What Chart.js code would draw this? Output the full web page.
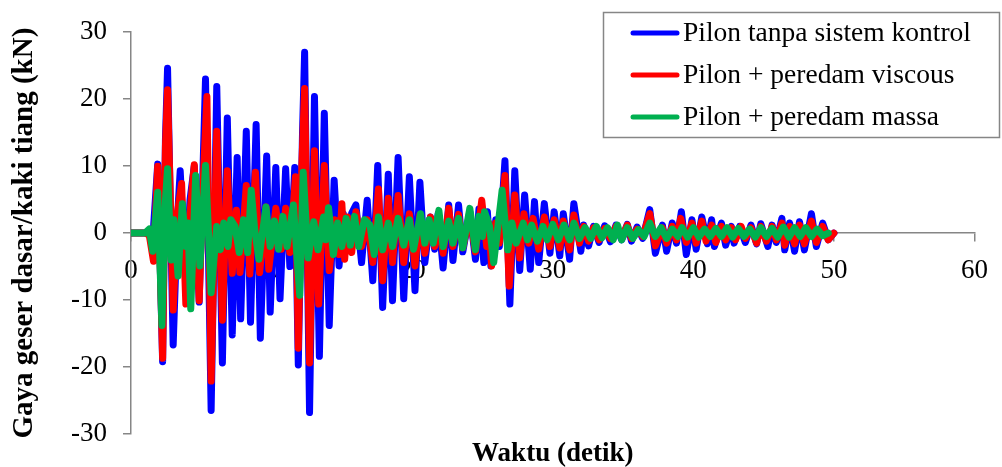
<!DOCTYPE html>
<html>
<head>
<meta charset="utf-8">
<script src="https://cdn.jsdelivr.net/npm/chart.js@4.4.1/dist/chart.umd.min.js"></script>
<style>
html,body{margin:0;padding:0;background:#fff;}
#wrap{width:1002px;height:467px;position:relative;}
</style>
</head>
<body>
<div id="wrap"><canvas id="c" width="1002" height="467"></canvas></div>
<script>
// ---- data ----
const seriesLabels = ["Pilon tanpa sistem kontrol", "Pilon + peredam viscous", "Pilon + peredam massa"];
const xTickValues = [0, 10, 20, 30, 40, 50, 60];
const yTickValues = [-30, -20, -10, 0, 10, 20, 30];

const tBlue = [0,1.0,1.3,1.55,1.9,2.25,2.45,2.6,3.0,3.3,3.5,3.9,4.2,4.5,4.85,5.1,5.3,5.7,6.1,6.5,6.85,7.2,7.55,7.8,8.2,8.5,8.9,9.2,9.65,9.9,10.3,10.6,11.0,11.3,11.65,11.9,12.2,12.35,12.7,13.05,13.4,13.75,14.1,14.45,14.8,15.1,15.4,15.7,16.0,16.4,16.8,17.2,17.55,17.9,18.3,18.6,19.0,19.4,19.8,20.2,20.55,20.9,21.3,21.6,21.85,22.2,22.6,22.9,23.3,23.6,24.1,24.5,24.75,25.1,25.35,25.6,25.95,26.2,26.6,26.95,27.3,27.65,28.0,28.4,28.7,29.0,29.4,29.8,30.1,30.5,30.75,31.2,31.5,32.0,32.2,32.55,32.9,33.3,33.7,34.1,34.5,34.9,35.3,35.6,36.0,36.4,36.9,37.3,37.8,38.1,38.5,38.8,39.15,39.5,39.9,40.2,40.6,41.0,41.3,41.5,42.0,42.3,42.7,42.9,43.3,43.7,44.1,44.5,44.8,45.3,45.6,45.9,46.3,46.5,46.85,47.2,47.55,47.9,48.4,48.75,49.2,49.6,50.0];
const vBlue = [0,0,0.3,-0.8,10.3,-19.2,14,24.6,-16.7,2,9.3,-7,5,10,-10.3,8,23,-26.5,21.9,-19.4,17.2,-15.2,11.3,-12.8,15.2,-13.3,16.2,-15.7,11.5,-11.8,9.8,-9.8,9.6,-5,9.8,-19.7,15,27.0,-26.8,20.4,-18.4,17.9,-13.8,7.9,-4.9,2.9,-2.4,3,4.2,-4.4,4.9,-7.1,10.1,-11.1,8.8,-10.1,11.3,-9.8,8.4,-8.6,7.6,-4.4,2.4,-2.4,2.9,-5.2,4.2,-4.1,4.2,-2.8,3.2,-3.9,3.6,-4.4,3.2,-4.9,2,-2,10.8,-10.6,9.3,-5.6,5.7,-5.4,4.7,-4.4,4.4,-3,3.2,-3.4,2.9,-3.9,4.4,-2.7,1.2,-1.9,1.0,-1.4,1.1,-1.3,1.2,-1.0,1.3,-1.2,0.9,-0.8,3.5,-3.0,1.2,-2.7,1.5,-1.5,3.2,-3.2,2.0,-2.4,2.4,-1.6,2.0,-2.0,1.5,-1.8,1.0,-1.5,1.0,-1.4,1.2,-1.6,1.4,-2.0,1.2,-1.4,2.2,-2.5,1.5,-2.7,1.7,-2.5,2.9,-2.0,1.5,-1.0,0];

const tRed = [0,1.0,1.3,1.6,1.9,2.25,2.45,2.6,3.0,3.3,3.6,3.9,4.2,4.5,4.85,5.1,5.4,5.7,6.1,6.5,6.85,7.2,7.5,7.75,8.2,8.45,8.85,9.15,9.6,9.8,10.3,10.7,11.0,11.3,11.7,11.9,12.15,12.35,12.7,13.05,13.35,13.75,14.1,14.5,14.8,15.0,15.2,15.4,15.7,16.0,16.4,16.8,17.2,17.6,17.9,18.3,18.6,19.0,19.4,19.8,20.2,20.55,20.9,21.3,21.6,21.9,22.2,22.6,22.9,23.3,23.6,24.1,24.5,24.95,25.3,25.45,25.65,25.95,26.2,26.6,26.9,27.3,27.65,27.95,28.3,28.6,29.0,29.4,29.8,30.1,30.5,30.75,31.2,31.5,31.9,32.2,32.55,32.9,33.3,33.7,34.1,34.5,34.9,35.3,35.6,36.0,36.4,36.9,37.3,37.8,38.1,38.5,38.8,39.1,39.5,39.9,40.2,40.6,40.9,41.3,41.6,42.0,42.3,42.7,43.0,43.4,43.7,44.1,44.5,44.8,45.2,45.6,45.9,46.3,46.5,46.85,47.2,47.55,47.9,48.4,48.75,49.2,49.6,50.0];
const vRed = [0,0,-0.3,-4.2,10.0,-18.7,13,21.4,-11.5,3,7.4,-10.6,3,10.2,-10.1,6,20.4,-22.1,15.2,-13,9.3,-6,3.4,-5.9,7.1,-6.1,9.1,-5.9,3.9,-5.4,3.7,-2.4,3.7,-2.9,8.4,-17.2,10,21.6,-19.4,12.3,-10.6,10.1,-5.6,2,-3.2,4.4,-3.9,2.4,-2.9,3.2,-2.0,2.0,-4.4,6.6,-7.1,5.2,-4.4,5.6,-4.4,2.9,-4.9,2.7,-3,2.4,-2.0,2.2,-3.0,3.7,-2.0,2.8,-2.2,2.5,-2.8,4.9,-2.0,1.5,-4.9,1.5,-1.5,8.6,-7.9,5.7,-3.7,2.9,-1.5,2.2,-2.4,2.4,-2.0,2.0,-2.2,1.8,-2.5,2.7,-1.5,1.0,-1.2,0.8,-1.0,0.7,-0.8,1.0,-0.7,1.2,-0.8,0.6,-0.5,2.9,-1.9,0.8,-1.5,1.0,-1.0,2.2,-1.4,1.5,-1.5,1.8,-1.2,1.2,-1.4,1.0,-1.0,0.8,-1.0,1.0,-0.8,0.8,-1.5,1.0,-1.2,1.0,-1.0,1.5,-1.8,1.0,-1.6,1.2,-1.6,1.8,-1.4,1.0,-1.0,0];

const tGreen = [0,1.0,1.3,1.55,1.9,2.2,2.45,2.6,2.85,3.05,3.35,3.65,3.9,4.05,4.25,4.6,4.9,5.3,5.7,6.1,6.35,6.6,6.9,7.1,7.4,7.7,8.0,8.3,8.55,8.8,9.1,9.6,9.9,10.2,10.5,10.8,11.1,11.55,12.0,12.25,12.6,13.0,13.3,13.7,13.85,14.05,14.4,14.7,15.0,15.3,15.6,15.9,16.2,16.6,17.0,17.3,17.6,17.9,18.3,18.6,19.0,19.4,19.8,20.1,20.6,20.9,21.2,21.5,21.9,22.2,22.6,22.9,23.3,23.6,24.1,24.5,24.75,25.0,25.15,25.5,25.8,26.4,26.8,27.1,27.4,27.9,28.2,28.5,28.9,29.3,29.6,30.0,30.4,30.8,31.2,31.5,31.9,32.3,32.7,33.1,33.5,33.9,34.3,34.6,34.9,35.3,35.7,36.1,36.5,36.9,37.3,37.7,38.1,38.5,38.9,39.2,39.6,40.0,40.4,40.8,41.2,41.6,42.0,42.4,42.8,43.2,43.6,44.0,44.4,44.8,45.2,45.6,46.0,46.4,46.8,47.2,47.6,48.0,48.4,48.8,49.2,49.6,50.0];
const vGreen = [0,0,0.6,-2.7,6.1,-13.8,5,9.6,-4,2,-6.4,4.4,-2,1.5,-11.3,8.6,-4.9,10.1,-8.9,1.0,-2.5,1.5,-2.0,2.0,1.0,-2.9,2.0,-2.9,6.4,0.5,-3.9,3.9,-2.0,1.8,-2.4,2.5,-2.0,4.2,-9.3,9.1,-3.7,1.7,-2.5,2.4,-1.0,3.8,-3.2,1.5,-2.0,2.2,-1.8,2.5,-2.0,2.0,1.2,-3.2,2.4,-2.5,1.5,-2.0,2.2,-1.8,2.0,-2.4,2.9,-1.5,2.0,-1.5,3.4,-2.0,1.8,-1.5,2.2,-2.2,3.7,-2.5,2.5,-0.5,3.2,1.0,-4.4,6.4,-2.5,1.5,-1.5,1.5,-1.0,1.2,-1.2,1.0,-1.0,1.3,-1.0,1.2,-1.0,1.5,-0.8,0.8,-0.8,1.0,-0.7,0.8,-1.0,1.2,-1.0,0.8,-0.8,0.5,-0.5,1.5,-0.5,0.8,-0.8,0.6,-0.5,0.8,-0.6,0.8,-0.6,0.6,-0.5,0.7,-0.5,0.8,-0.6,0.7,-0.5,0.6,-0.6,0.8,-0.5,0.7,-0.6,0.9,-0.6,0.8,-0.5,0.8,-0.5,0.6,-0.4,0];

// ---- chart ----
const FONT = "'Liberation Serif', 'Times New Roman', serif";
const AXIS_GREY = '#868686';
const colors = ['#0000FF', '#FF0000', '#00B050'];

function pts(t, v) { return t.map((x, i) => ({x: x, y: v[i]})); }

const legendBox = {
  id: 'legendBox',
  afterDraw(chart) {
    const ctx = chart.ctx;
    ctx.save();
    ctx.strokeStyle = AXIS_GREY;
    ctx.lineWidth = 1.5;
    ctx.strokeRect(603.5, 12.5, 396, 125);
    ctx.font = '27.5px ' + FONT;
    ctx.textBaseline = 'middle';
    ctx.fillStyle = '#000';
    const rows = [33, 75, 117];
    seriesLabels.forEach((lab, i) => {
      ctx.strokeStyle = colors[i];
      ctx.lineWidth = 5;
      ctx.lineCap = 'round';
      ctx.beginPath();
      ctx.moveTo(633, rows[i]);
      ctx.lineTo(677, rows[i]);
      ctx.stroke();
      ctx.fillText(lab, 683, rows[i] + 1);
    });
    ctx.restore();
  }
};

new Chart(document.getElementById('c'), {
  type: 'line',
  data: {
    datasets: [
      {label: seriesLabels[0], data: pts(tBlue, vBlue), borderColor: colors[0], order: 3},
      {label: seriesLabels[1], data: pts(tRed, vRed), borderColor: colors[1], order: 2},
      {label: seriesLabels[2], data: pts(tGreen, vGreen), borderColor: colors[2], order: 1}
    ]
  },
  options: {
    responsive: false,
    animation: false,
    parsing: false,
    elements: {
      line: {borderWidth: 7, tension: 0, borderJoinStyle: 'round', borderCapStyle: 'round', fill: false},
      point: {radius: 0, hoverRadius: 0}
    },
    layout: {padding: {top: 27, right: 25, left: 0, bottom: 0}},
    plugins: {legend: {display: false}, tooltip: {enabled: false}, title: {display: false}},
    scales: {
      x: {
        type: 'linear',
        position: {y: 0},
        min: 0, max: 60,
        afterBuildTicks(s) { s.ticks = xTickValues.map(v => ({value: v})); },
        ticks: {font: {family: FONT, size: 27}, color: '#000', padding: 14, maxRotation: 0},
        grid: {drawOnChartArea: false, drawTicks: true, tickLength: 8, color: AXIS_GREY, lineWidth: 1.5},
        border: {display: true, color: AXIS_GREY, width: 1.5}
      },
      x2: {
        type: 'linear',
        position: 'bottom',
        min: 0, max: 60,
        ticks: {display: false},
        grid: {display: false, drawTicks: false},
        border: {display: false},
        title: {display: true, text: 'Waktu (detik)', color: '#000', font: {family: FONT, size: 27, weight: 'bold', lineHeight: 1.0}, padding: {top: 0, bottom: -1}},
        afterFit(s) { s.height = 33; }
      },
      y: {
        type: 'linear',
        position: 'left',
        min: -30, max: 30,
        afterBuildTicks(s) { s.ticks = yTickValues.map(v => ({value: v})); },
        ticks: {font: {family: FONT, size: 27}, color: '#000', padding: 16},
        grid: {drawOnChartArea: false, drawTicks: true, tickLength: 8, color: AXIS_GREY, lineWidth: 1.5},
        border: {display: true, color: AXIS_GREY, width: 1.5},
        title: {display: true, text: 'Gaya geser dasar/kaki tiang (kN)', color: '#000', font: {family: FONT, size: 29, weight: 'bold', lineHeight: 1.0}, padding: {top: 10, bottom: 0}},
        afterFit(s) { s.width = 131; }
      }
    }
  },
  plugins: [legendBox]
});
</script>
</body>
</html>
